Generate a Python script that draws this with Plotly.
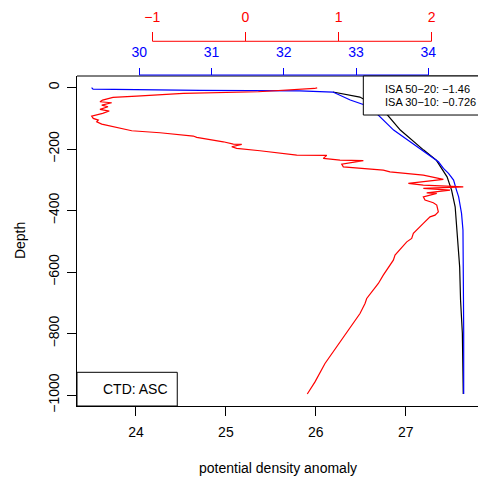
import plotly.graph_objects as go

# ---- data ----
# black: potential density anomaly (bottom axis); near-surface part is hidden under blue
dens_val = [26.191, 26.49, 26.75, 26.94, 27.20, 27.34, 27.46,
            27.51, 27.55, 27.57, 27.60, 27.61, 27.63, 27.64]
dens_depth = [-14.6, -30.9, -73.2, -138.2, -203.3, -235.8, -290.1,
              -333.3, -387.6, -473.2, -582.8, -691.1, -798.4, -996]

# blue: salinity (top blue axis)
sal_val = [29.34, 29.36, 30.84, 32.22, 32.68, 32.92, 33.19, 33.52, 33.91, 34.14,
           34.21, 34.28, 34.35, 34.36, 34.37, 34.39, 34.42, 34.44, 34.46, 34.48,
           34.485, 34.49, 34.49]
sal_depth = [0, -4.9, -9.1, -10.7, -14.6, -40.7, -62.4, -138.2, -203.3, -241.3,
             -262.8, -279.0, -300.8, -311.5, -322.6, -333.3, -355.1, -376.6, -409.1,
             -463.4, -561, -789, -996]

# red: temperature (top red axis)
temp_val = [0.77, 0.74, 0.138, -0.667, -1.168, -1.422, -1.534, -1.562, -1.436, -1.543,
            -1.476, -1.562, -1.462, -1.533, -1.651, -1.634, -1.580, -1.597, -1.543,
            -1.419, -1.275, -1.221, -0.917, -0.560, -0.523, -0.380, -0.238, -0.130,
            -0.040, -0.147, -0.094, 0.156, 0.551, 0.873, 0.836, 1.015, 1.266, 1.034,
            1.051, 1.480, 1.552, 1.910, 2.125, 1.749, 1.910, 2.339, 1.910, 2.197,
            1.946, 2.054, 1.910, 1.928, 2.017, 2.054, 2.071, 2.036, 1.982, 1.910,
            1.803, 1.785, 1.732, 1.606, 1.588, 1.480, 1.427, 1.302, 1.284, 1.230,
            1.051, 0.854, 0.747, 0.664]
temp_depth = [-1, -3, -13.7, -18.9, -27.6, -31.9, -40.7, -46.2, -49.4, -56.9,
              -62.4, -70.9, -76.4, -83.9, -92.7, -100.2, -105.7, -111.2, -118.7,
              -127.5, -135.9, -140.5, -147.0, -157.7, -162.0, -168.5, -176.3, -183.7,
              -184.5, -192.5, -197.7, -205.5, -219.5, -220.5, -230.2, -235.8, -237.4, -248.8,
              -257.6, -268.3, -273.8, -284.6, -298.5, -311.5, -317.1, -322.6, -327.8, -333.3,
              -342.1, -344.1, -355.1, -365.9, -374.6, -382.1, -403.9, -414.6, -420.2, -441.6,
              -474.1, -490.4, -501.5, -544.7, -561.0, -609.8, -636.7, -685.5, -701.8, -734.3,
              -810.4, -896.9, -956.7, -996]

dens_ticks = [24, 25, 26, 27]
sal_ticks = [30, 31, 32, 33, 34]
temp_ticks = [-1, 0, 1, 2]
depth_ticks = [0, -200, -400, -600, -800, -1000]

legend_lines = ["ISA 50\u221220: \u22121.46", "ISA 30\u221210: \u22120.726"]
corner_label = "CTD: ASC"

FONT = "Liberation Sans, Arial, sans-serif"

# layout geometry (paper fractions)
plot_top = 0.8128
blue_pos = 0.8153
red_pos = 0.8983

fig = go.Figure()
fig.add_trace(go.Scatter(x=dens_val, y=dens_depth, mode="lines", xaxis="x", yaxis="y",
                         line=dict(color="black", width=1.2), showlegend=False))
fig.add_trace(go.Scatter(x=sal_val, y=sal_depth, mode="lines", xaxis="x2", yaxis="y",
                         line=dict(color="#0000ff", width=1.2), showlegend=False))
fig.add_trace(go.Scatter(x=temp_val, y=temp_depth, mode="lines", xaxis="x3", yaxis="y",
                         line=dict(color="#ff0000", width=1.2), showlegend=False))

fig.update_layout(
    width=478, height=482,
    margin=dict(l=77, r=0, t=0, b=76),
    paper_bgcolor="white", plot_bgcolor="white",
    font=dict(family=FONT, size=14, color="black"),
    xaxis=dict(range=[23.344, 27.804], tickvals=dens_ticks, ticks="outside", ticklen=9,
               tickcolor="black", showline=True, linecolor="black", linewidth=1,
               showgrid=False, zeroline=False, anchor="y", ticklabelstandoff=4,
               tickfont=dict(size=14)),
    xaxis2=dict(range=[29.138, 34.688], tickvals=sal_ticks, ticks="outside", ticklen=7,
                tickcolor="#0000ff", tickfont=dict(size=14, color="#0000ff"),
                overlaying="x", side="top", anchor="free", position=blue_pos,
                showline=False, showgrid=False, zeroline=False, ticklabelstandoff=5),
    xaxis3=dict(range=[-1.8086, 2.497], tickvals=temp_ticks, ticks="outside", ticklen=9,
                tickcolor="#ff0000", tickfont=dict(size=14, color="#ff0000"),
                overlaying="x", side="top", anchor="free", position=red_pos,
                showline=False, showgrid=False, zeroline=False, ticklabelstandoff=5),
    yaxis=dict(range=[-1035, 37.5], domain=[0, plot_top], tickvals=depth_ticks,
               ticks="outside", ticklen=9, tickcolor="black", tickangle=-90,
               showline=True, linecolor="black", linewidth=1, showgrid=False,
               zeroline=False, ticklabelstandoff=2, tickfont=dict(size=14)),
)

shapes = [
    # top border of the box
    dict(type="line", xref="paper", yref="paper", x0=0, x1=1, y0=plot_top, y1=plot_top,
         line=dict(color="black", width=1)),
    # blue axis line
    dict(type="line", xref="x2", yref="paper", x0=sal_ticks[0], x1=sal_ticks[-1],
         y0=blue_pos, y1=blue_pos, line=dict(color="#0000ff", width=1)),
    # red axis line
    dict(type="line", xref="x3", yref="paper", x0=temp_ticks[0], x1=temp_ticks[-1],
         y0=red_pos, y1=red_pos, line=dict(color="#ff0000", width=1)),
    # legend box top right
    dict(type="rect", xref="paper", yref="paper", x0=0.714, x1=1.02, y0=0.7167, y1=plot_top,
         line=dict(color="black", width=1), fillcolor="white", layer="above"),
    # legend box bottom left
    dict(type="rect", xref="paper", yref="paper", x0=0, x1=0.250, y0=0, y1=0.083,
         line=dict(color="black", width=1), fillcolor="white", layer="above"),
]
fig.update_layout(shapes=shapes)

ann = [
    dict(text=legend_lines[0], xref="paper", yref="paper", x=0.7641, y=0.7808,
         xanchor="left", yanchor="middle", showarrow=False, font=dict(size=11)),
    dict(text=legend_lines[1], xref="paper", yref="paper", x=0.7641, y=0.7480,
         xanchor="left", yanchor="middle", showarrow=False, font=dict(size=11)),
    dict(text=corner_label, xref="paper", yref="paper", x=0.2319, y=0.0411,
         xanchor="right", yanchor="middle", showarrow=False, font=dict(size=14)),
    dict(text="potential density anomaly", xref="paper", yref="paper", x=0.5, y=-0.1527,
         xanchor="center", yanchor="middle", showarrow=False, font=dict(size=14)),
    dict(text="Depth", xref="paper", yref="paper", x=-0.142, y=0.4064,
         xanchor="center", yanchor="middle", textangle=-90, showarrow=False,
         font=dict(size=14)),
]
fig.update_layout(annotations=ann)

fig.write_html("out.html")
